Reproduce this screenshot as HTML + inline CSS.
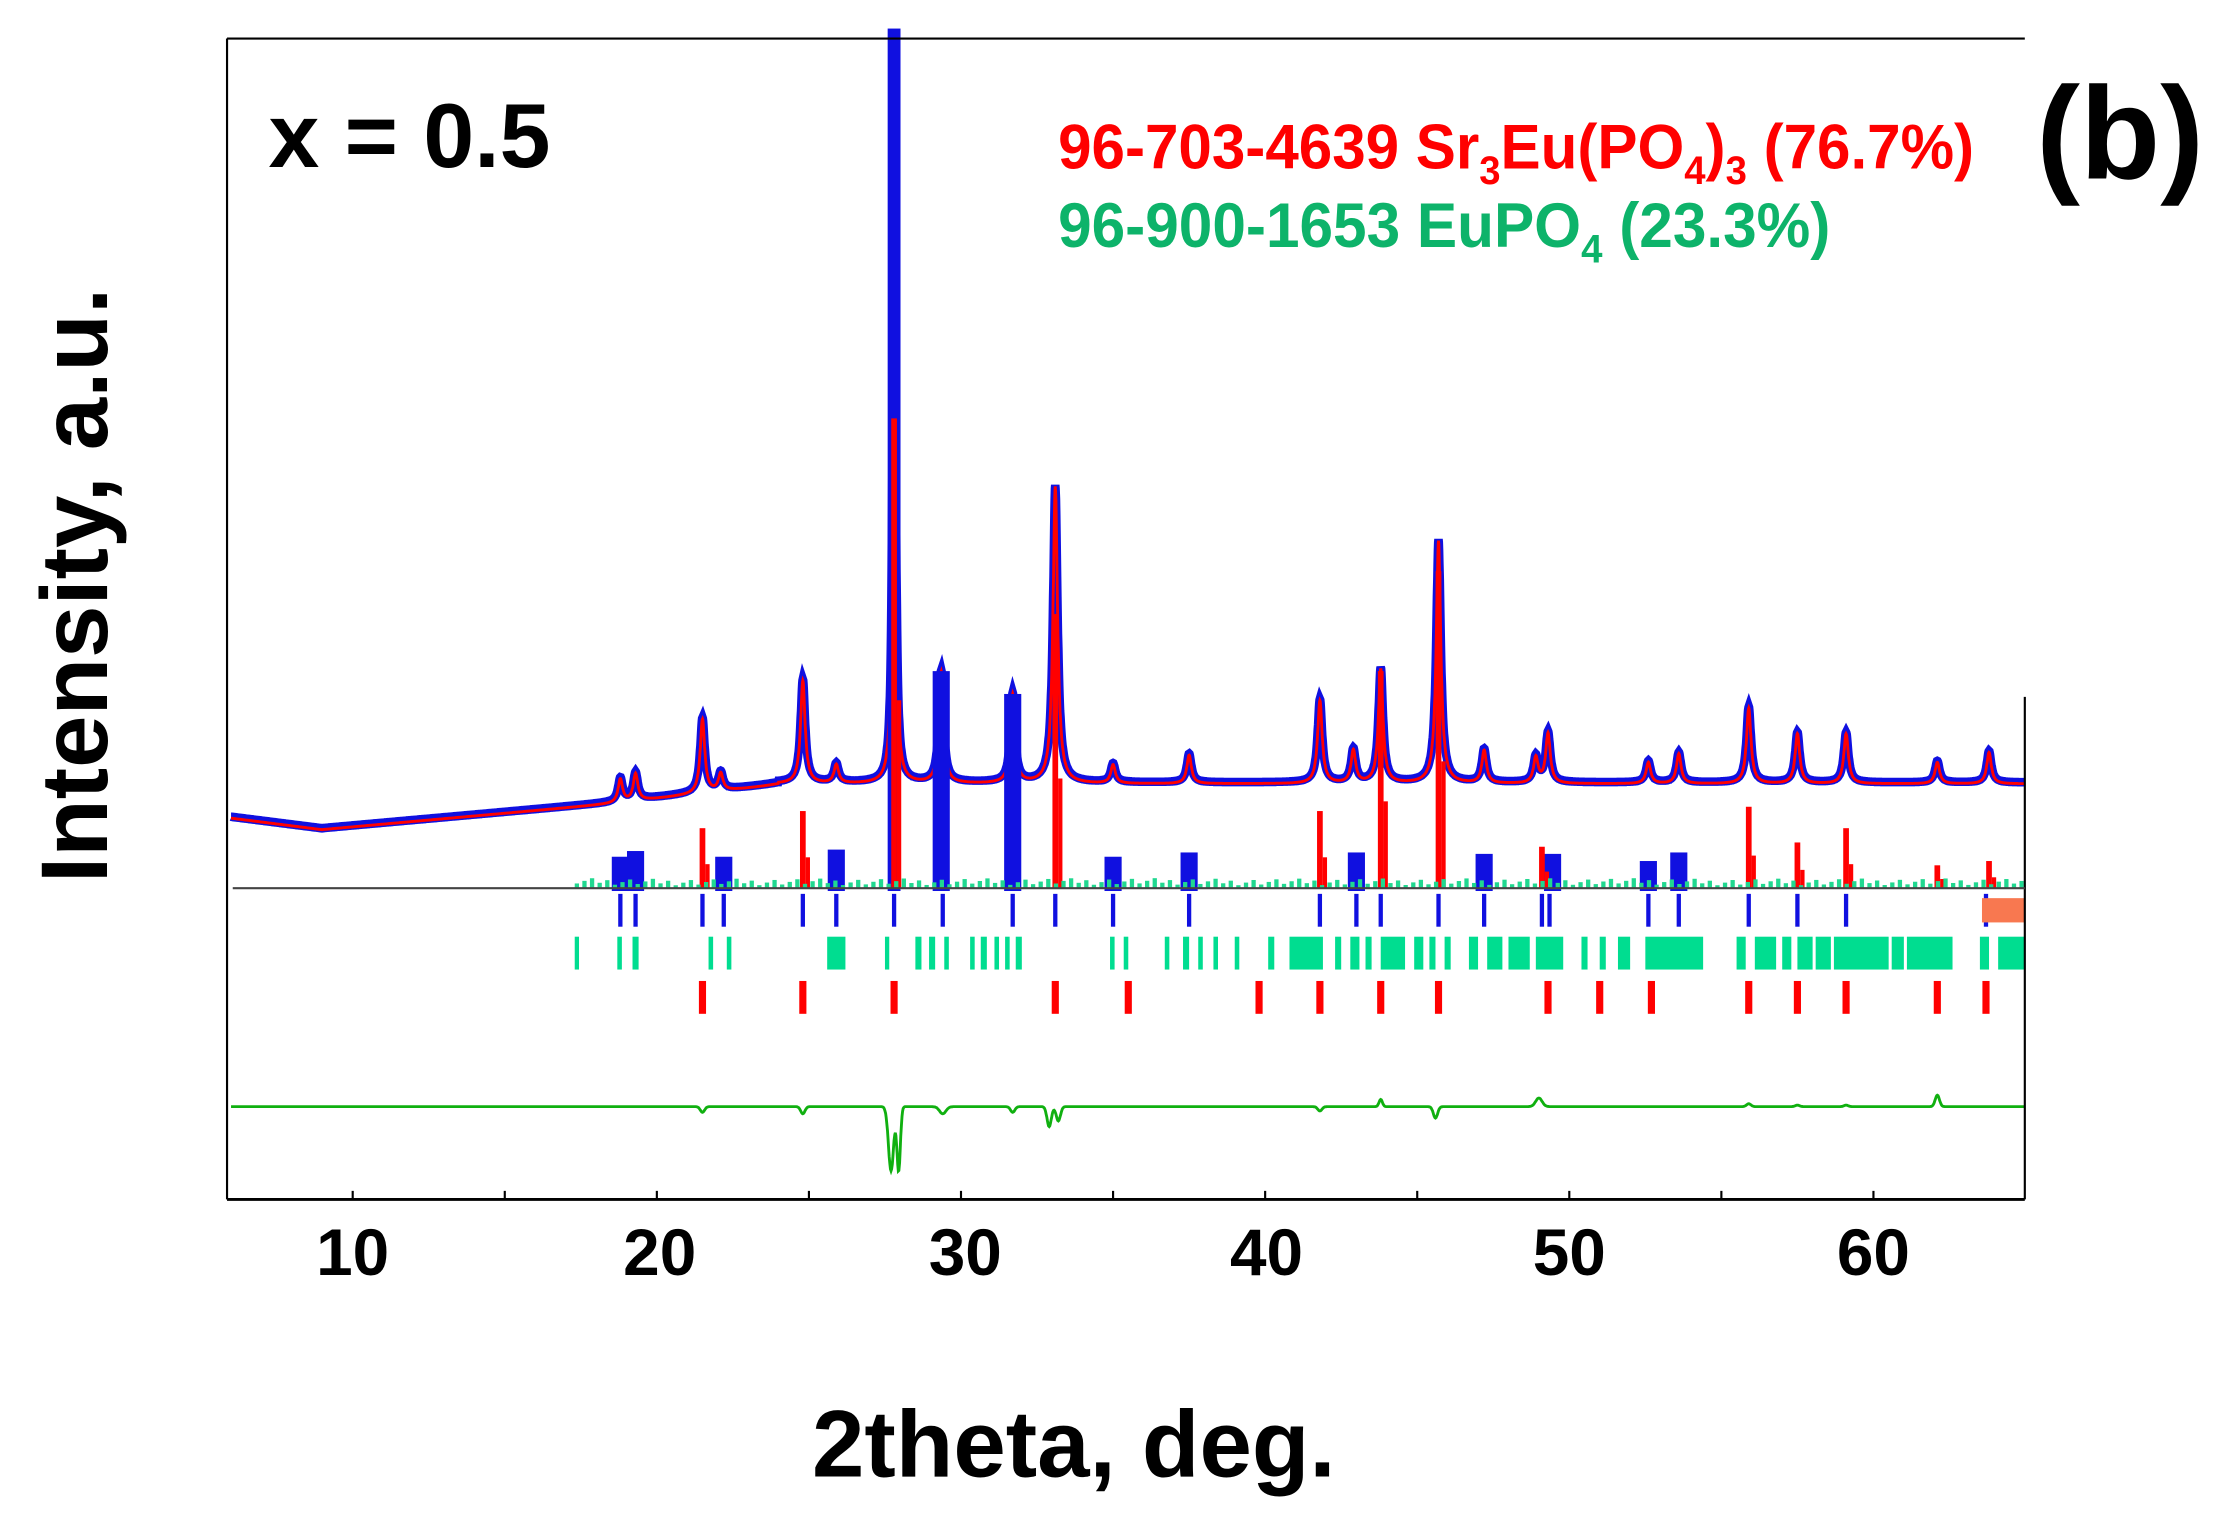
<!DOCTYPE html>
<html><head><meta charset="utf-8"><style>
html,body{margin:0;padding:0;background:#fff}
svg{display:block}
text{font-family:"Liberation Sans",Arial,sans-serif;font-weight:bold}
</style></head><body>
<svg id="s" width="2239" height="1515" viewBox="0 0 1568 1061" preserveAspectRatio="none" xmlns="http://www.w3.org/2000/svg">
<rect width="1568" height="1061" fill="#fff"/>
<g id="g"></g>
<line x1="159" y1="27" x2="1418" y2="27" stroke="#000" stroke-width="1.5"/>
<line x1="159" y1="27" x2="159" y2="840" stroke="#000" stroke-width="1.5"/>
<line x1="1418" y1="488" x2="1418" y2="840" stroke="#000" stroke-width="1.5"/>
<line x1="159" y1="840" x2="1418" y2="840" stroke="#000" stroke-width="2"/>
<line x1="163" y1="622" x2="1418" y2="622" stroke="#444" stroke-width="1.5"/>
<text x="188" y="117" font-size="64">x = 0.5</text>
<text x="1426" y="125" font-size="92">(b)</text>
<g transform="translate(741,118) scale(0.957,1)"><text x="0" y="0" font-size="44" fill="#f00">96-703-4639 Sr<tspan font-size="28" dy="11">3</tspan><tspan dy="-11">Eu(PO</tspan><tspan font-size="28" dy="11">4</tspan><tspan dy="-11">)</tspan><tspan font-size="28" dy="11">3</tspan><tspan dy="-11"> (76.7%)</tspan></text></g>
<g transform="translate(741,173) scale(0.96,1)"><text x="0" y="0" font-size="44" fill="#0db36a">96-900-1653 EuPO<tspan font-size="28" dy="11">4</tspan><tspan dy="-11"> (23.3%)</tspan></text></g>
<text transform="translate(75,410) rotate(-90)" text-anchor="middle" font-size="66">Intensity, a.u.</text>
<text x="752" y="1034" text-anchor="middle" font-size="66">2theta, deg.</text>
<g font-size="46" text-anchor="middle">
<text x="247" y="893">10</text><text x="462" y="893">20</text><text x="676" y="893">30</text>
<text x="887" y="893">40</text><text x="1099" y="893">50</text><text x="1312" y="893">60</text>
</g>
</svg>
<script>
var g=document.getElementById('g'),NS="http://www.w3.org/2000/svg";
function X(t){return 247+(t-10)*21.3;}
function el(n,a){var e=document.createElementNS(NS,n);for(var k in a)e.setAttribute(k,a[k]);g.appendChild(e);return e;}
for(var t=10;t<=60;t+=5){el('line',{x1:X(t),y1:840,x2:X(t),y2:834,stroke:'#000','stroke-width':1.5});}
function bg(t){if(t<9)return 572+(t-6)*2.7;if(t<18.5)return 580-(t-9)*1.9;if(t<24)return 562-(t-18.5)*2.4;return 548;}
var peaks=[[18.8,545],[19.3,541],[21.5,503],[22.1,541],[24.8,476],[25.9,535],[27.8,20],[29.35,470],[31.7,486],[33.1,340],[35.0,535],[37.5,528],[41.8,490],[42.9,525],[43.8,468],[45.7,378],[47.2,525],[48.9,530],[49.3,513],[52.6,533],[53.6,527],[55.9,495],[57.5,513],[59.1,513],[62.1,533],[63.8,526]];
function I(t){var y=bg(t);for(var i=0;i<peaks.length;i++){var p=peaks[i],h=bg(p[0])-p[1],w=p[0]==27.8?0.05:0.09,d=(t-p[0])/w;y-=h/(1+d*d);}return y;}
var pb="",pr="";
for(var t=6;t<=65;t+=0.01){var y=Math.max(I(t),28);pb+=(pb?"L":"M")+X(t).toFixed(1)+","+y.toFixed(1);}
el('path',{d:pb,fill:'none',stroke:'#1010e0','stroke-width':6});
for(var t=6;t<=65;t+=0.01){var y=I(t)+1;if(Math.abs(t-27.8)<0.25)y=Math.max(y,293);pr+=(pr?"L":"M")+X(t).toFixed(1)+","+y.toFixed(1);}
el('path',{d:pr,fill:'none',stroke:'#f00','stroke-width':2});
[[18.8,600],[19.3,596],[22.2,600],[25.9,595],[29.35,470],[31.7,486],[35.0,600],[37.5,597],[43.0,597],[47.2,598],[49.45,598],[52.6,603],[53.6,597],[27.8,20]].forEach(function(b){var w=b[0]==27.8?9:12;el('rect',{x:X(b[0])-w/2,y:b[1],width:w,height:624-b[1],fill:'#1010e0'});});
[[21.5,580],[24.8,568],[27.8,293],[33.1,430],[41.8,568],[43.8,470],[45.7,400],[49.1,593],[55.9,565],[57.5,590],[59.1,580],[62.1,606],[63.8,603]].forEach(function(b){el('rect',{x:X(b[0])-2,y:b[1],width:4,height:622-b[1],fill:'#f00'});el('rect',{x:X(b[0])+2,y:b[1]+(622-b[1])*0.6,width:3,height:(622-b[1])*0.4,fill:'#f00'});});
for(var t=17.3;t<65;t+=0.25){var h=2+((t*7.3)%5);el('rect',{x:X(t),y:622-h,width:3,height:h,fill:'#20d890'});}
[18.8,19.3,21.5,22.2,24.8,25.9,27.8,29.4,31.7,33.1,35.0,37.5,41.8,43.0,43.8,45.7,47.2,49.1,49.35,52.6,53.6,55.9,57.5,59.1,63.7].forEach(function(t){el('rect',{x:X(t)-1.5,y:626,width:3,height:23,fill:'#1010e0'});});
el('rect',{x:1388,y:629,width:30,height:17,fill:'#f87850'});
[[17.3,17.4],[18.7,18.85],[19.2,19.4],[21.7,21.85],[22.3,22.45],[25.6,26.2],[27.5,27.6],[28.5,28.7],[28.95,29.15],[29.45,29.6],[30.3,30.45],[30.65,30.85],[31.1,31.25],[31.45,31.6],[31.8,32.0],[34.9,35.05],[35.35,35.5],[36.7,36.85],[37.3,37.5],[37.8,37.95],[38.3,38.45],[39.0,39.15],[40.1,40.3],[40.8,41.9],[42.3,42.5],[42.8,43.1],[43.3,43.5],[43.8,44.6],[44.9,45.2],[45.4,45.6],[45.9,46.1],[46.7,47.0],[47.3,47.8],[48.0,48.7],[48.9,49.8],[50.4,50.6],[51.0,51.2],[51.6,52.0],[52.5,54.4],[55.5,55.8],[56.1,56.8],[57.0,57.3],[57.5,58.0],[58.1,58.6],[58.7,60.5],[60.6,61.0],[61.1,62.6],[63.5,63.8],[64.1,65.0]].forEach(function(r){el('rect',{x:X(r[0]),y:656,width:Math.max(3,X(r[1])-X(r[0])),height:23,fill:'#00dd90'});});
[21.5,24.8,27.8,33.1,35.5,39.8,41.8,43.8,45.7,49.3,51.0,52.7,55.9,57.5,59.1,62.1,63.7].forEach(function(t){el('rect',{x:X(t)-2.5,y:687,width:5,height:23,fill:'#f00'});});
var dd=[[21.5,-4,0.1],[24.8,-5,0.1],[27.7,-45,0.12],[27.95,-45,0.08],[29.4,-5,0.15],[31.7,-4,0.1],[32.9,-14,0.1],[33.2,-10,0.1],[41.8,-3,0.1],[43.8,5,0.08],[45.6,-8,0.1],[49.0,6,0.15],[55.9,2,0.1],[57.5,1,0.1],[59.1,1,0.1],[62.1,8,0.1]];
var pd="";for(var t=6;t<=65;t+=0.02){var y=775;dd.forEach(function(p){var d=(t-p[0])/p[2];y-=p[1]*Math.exp(-d*d);});pd+=(pd?"L":"M")+X(t).toFixed(1)+","+y.toFixed(1);}
el('path',{d:pd,fill:'none',stroke:'#10b010','stroke-width':2});
</script>
</body></html>
